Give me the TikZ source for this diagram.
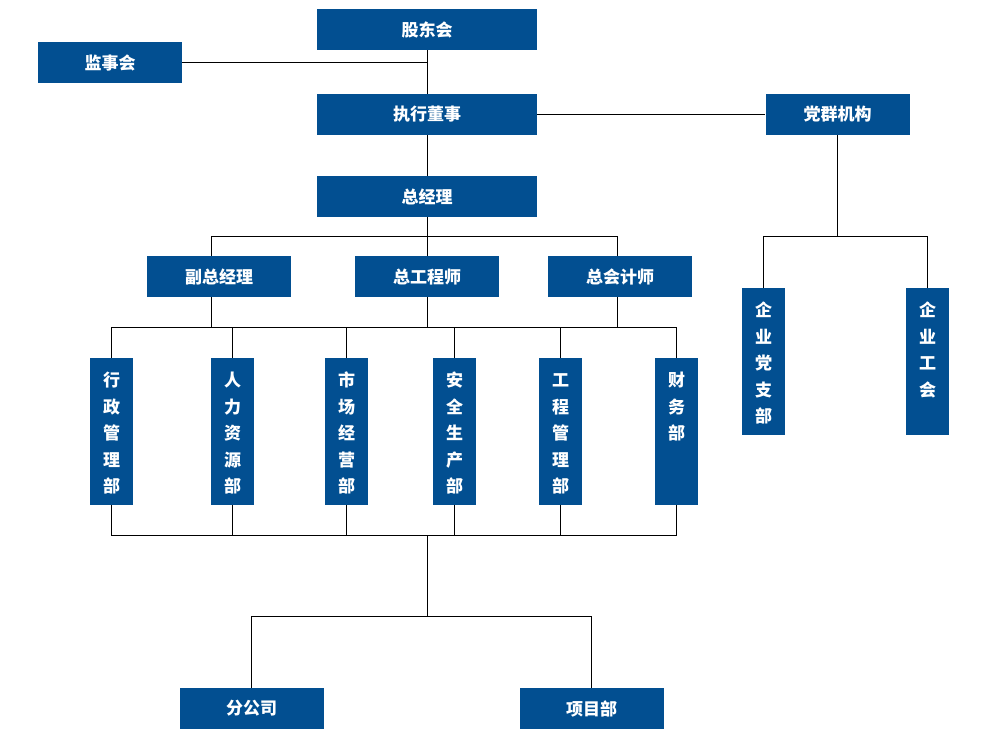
\documentclass[tikz,border=0pt]{standalone}
\usepackage{fontspec}
\newfontfamily\cjk{Noto Sans CJK SC}
\usepackage{tikz}
\usetikzlibrary{positioning}
\definecolor{boxblue}{RGB}{2,79,145}
\newcommand{\vstack}[1]{\parbox[c][147pt][t]{43pt}{\centering\rule{0pt}{28.5pt}#1}}

\begin{document}
\begin{tikzpicture}[x=1pt, y=-1pt, node distance=80pt, on grid,
    box/.style={fill=boxblue, text=white, minimum width=144pt, minimum height=41pt, inner sep=0pt,
      font=\cjk\bfseries\fontsize{17}{20}\selectfont},
    widebox/.style={box, minimum width=220pt},
    dept/.style={fill=boxblue, text=white, inner sep=0pt,
      font=\cjk\bfseries\fontsize{17}{26.5}\selectfont},
    link/.style={draw=black, line width=1pt}]
        \useasboundingbox (0,0) rectangle (981,748);

        \node[widebox] (gdh) at (427,29.5) {股东会};
        \node[widebox] (zxds) [below=85pt of gdh] {执行董事};
        \node[widebox] (zjl) [below=82pt of zxds] {总经理};
        \node[box] (zgcs) [below=of zjl] {总工程师};
        \node[box] (fzjl) [left=208pt of zgcs] {副总经理};
        \node[box] (zkjs) [right=193pt of zgcs] {总会计师};
        \node[box] (jsh) at (110,62.5) {监事会};
        \node[box] (dqjg) [right=410.5pt of zxds] {党群机构};

        \node[dept] (xzgl) at (111.5,431.5) {\vstack{行\\政\\管\\理\\部}};
        \node[dept] (rlzy) at (232.5,431.5) {\vstack{人\\力\\资\\源\\部}};
        \node[dept] (scjy) at (346.5,431.5) {\vstack{市\\场\\经\\营\\部}};
        \node[dept] (aqsc) at (454.5,431.5) {\vstack{安\\全\\生\\产\\部}};
        \node[dept] (gcgl) at (560.5,431.5) {\vstack{工\\程\\管\\理\\部}};
        \node[dept] (cwb) at (676.5,431.5) {\vstack{财\\务\\部}};
        \node[dept] (qydzb) at (763.5,361.5) {\vstack{企\\业\\党\\支\\部}};
        \node[dept] (qygh) at (927.5,361.5) {\vstack{企\\业\\工\\会}};

        \node[box] (fgs) at (251.5,708.5) {分公司};
        \node[box] (xmb) at (591.5,708.5) {项目部};

        \coordinate (fzn) at ([xshift=-8pt]fzjl.north);
        \coordinate (fzs) at ([xshift=-8pt]fzjl.south);
        \coordinate (zkn) at ([xshift=-3pt]zkjs.north);
        \coordinate (zks) at ([xshift=-3pt]zkjs.south);
        \coordinate[below=19pt of zjl.south] (bus1);
        \coordinate[below=30pt of zgcs.south] (bus2);
        \coordinate[below=30pt of xzgl.south] (b3l);
        \coordinate (bus3) at (zgcs |- b3l);
        \coordinate[below=81pt of bus3] (bus4);
        \coordinate[below=101pt of dqjg.south] (bus5);

        \path[link]
          (gdh) -- (zxds)
          (jsh) -- (jsh -| gdh)
          (zxds) -- (dqjg)
          (zxds) -- (zjl)
          (zjl) -- (zgcs)
          (fzn) |- (bus1) -| (zkn)
          (zgcs) -- (bus2)
          (fzs) -- (fzs |- bus2)
          (zks) -- (zks |- bus2)
          (xzgl) |- (bus2) -| (cwb)
          (rlzy) -- (rlzy |- bus2)
          (scjy) -- (scjy |- bus2)
          (aqsc) -- (aqsc |- bus2)
          (gcgl) -- (gcgl |- bus2)
          (xzgl) |- (bus3) -| (cwb)
          (rlzy) -- (rlzy |- bus3)
          (scjy) -- (scjy |- bus3)
          (aqsc) -- (aqsc |- bus3)
          (gcgl) -- (gcgl |- bus3)
          (bus3) -- (bus4)
          (fgs) |- (bus4) -| (xmb)
          (dqjg) -- (bus5)
          (qydzb) |- (bus5) -| (qygh);
\end{tikzpicture}
\end{document}
